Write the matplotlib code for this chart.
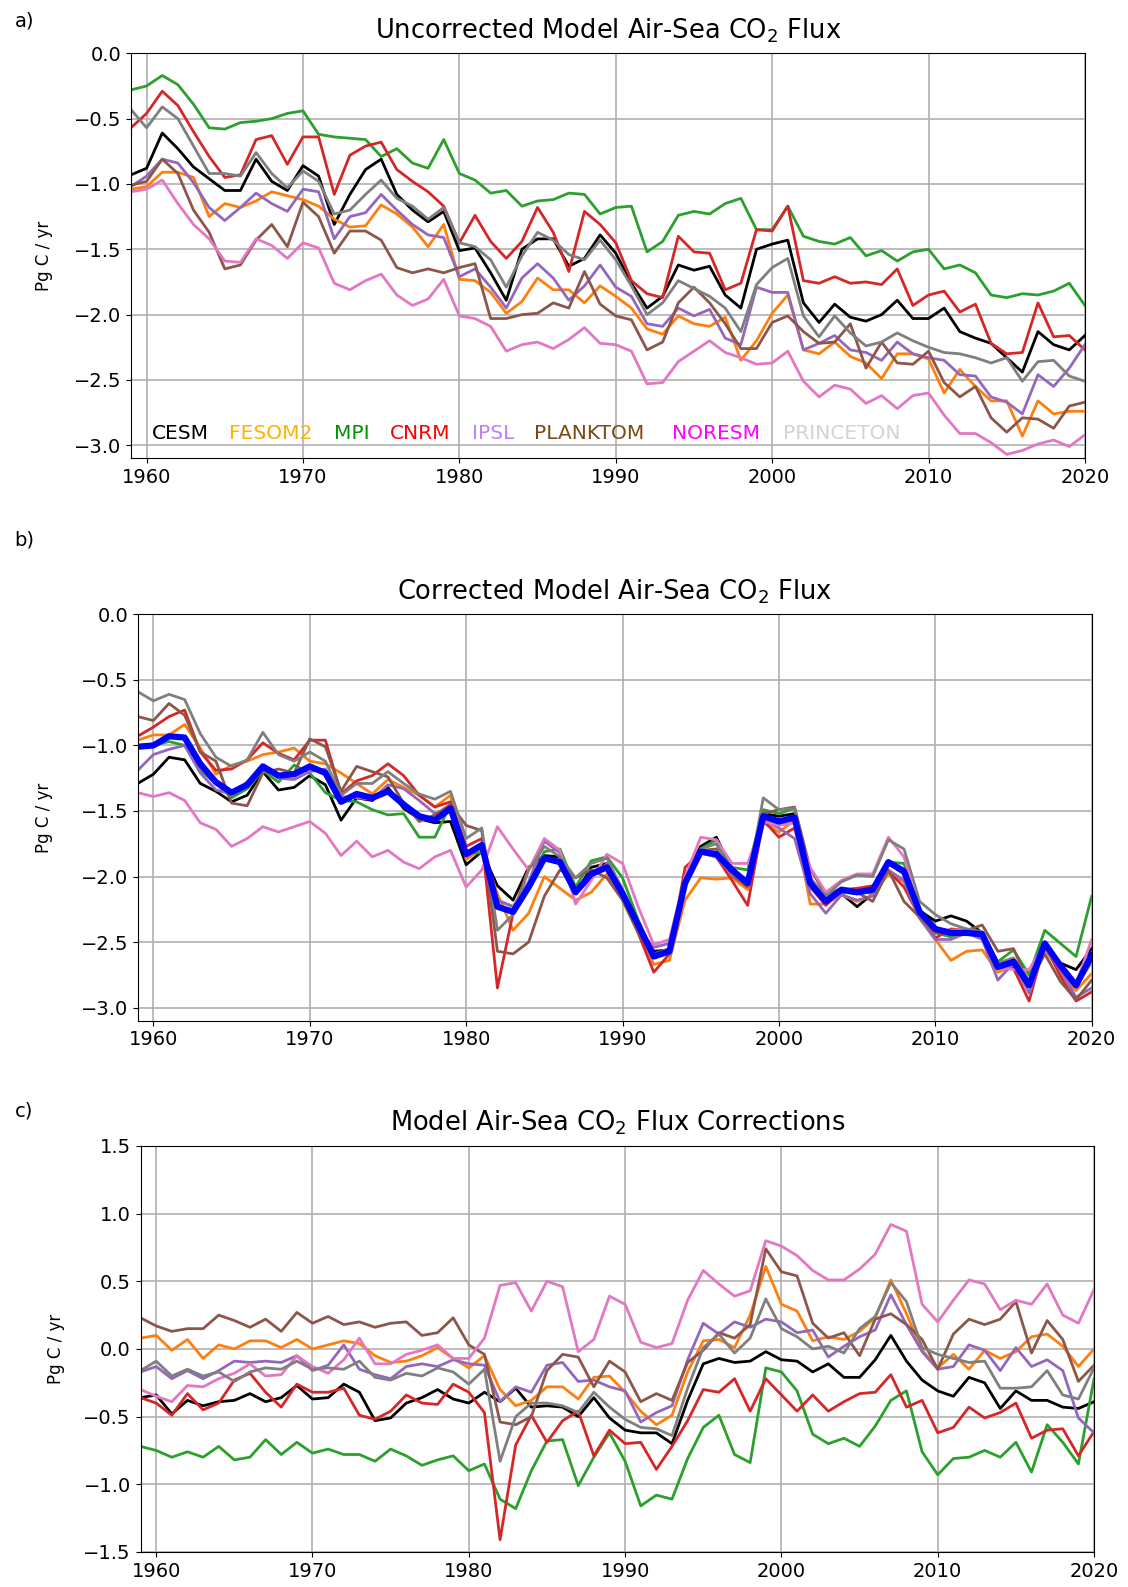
import numpy as np
import matplotlib
matplotlib.use('Agg')
import matplotlib.pyplot as plt

years = np.arange(1959, 2021)

models = ['CESM', 'FESOM2', 'MPI', 'CNRM', 'IPSL', 'PLANKTOM', 'NORESM', 'PRINCETON']
line_colors = ['k', 'tab:orange', 'tab:green', 'tab:red', 'tab:purple', 'tab:brown', 'tab:pink', 'tab:gray']
label_colors = ['black', '#ffb300', '#009400', 'red', '#bf80ff', '#7b4a12', 'magenta', 'lightgray']

# uncorrected model flux (Pg C / yr), 1959-2020
cesm_raw = [-0.93, -0.88, -0.61, -0.73, -0.87, -0.96, -1.05, -1.05, -0.81, -0.98, -1.05, -0.86, -0.94, -1.31, -1.08, -0.89, -0.81, -1.08, -1.20, -1.29, -1.21,
            -1.51, -1.49, -1.68, -1.89, -1.50, -1.42, -1.42, -1.63, -1.57, -1.39, -1.53, -1.76, -1.95, -1.86, -1.62, -1.66, -1.63, -1.85, -1.95, -1.50,
            -1.46, -1.43, -1.91, -2.06, -1.92, -2.02, -2.05, -2.00, -1.89, -2.03, -2.03, -1.95, -2.13, -2.18, -2.22, -2.33, -2.44, -2.13, -2.23, -2.27, -2.16]
fesom_raw = [-1.04, -1.02, -0.91, -0.91, -0.95, -1.25, -1.15, -1.18, -1.13, -1.06, -1.09, -1.12, -1.17, -1.27, -1.33, -1.32, -1.16, -1.23, -1.33, -1.48, -1.31,
             -1.73, -1.74, -1.83, -1.99, -1.90, -1.72, -1.81, -1.81, -1.91, -1.78, -1.86, -1.95, -2.11, -2.15, -2.01, -2.07, -2.09, -2.02, -2.35, -2.20,
             -1.99, -1.85, -2.27, -2.30, -2.21, -2.32, -2.37, -2.49, -2.30, -2.30, -2.34, -2.60, -2.42, -2.55, -2.66, -2.66, -2.93, -2.66, -2.76, -2.74, -2.74]
mpi_raw = [-0.28, -0.25, -0.17, -0.24, -0.39, -0.57, -0.58, -0.53, -0.52, -0.50, -0.46, -0.44, -0.62, -0.64, -0.65, -0.66, -0.79, -0.73, -0.84, -0.88, -0.66,
           -0.92, -0.97, -1.07, -1.05, -1.17, -1.13, -1.12, -1.07, -1.08, -1.23, -1.18, -1.17, -1.52, -1.44, -1.24, -1.21, -1.23, -1.15, -1.11, -1.35,
           -1.35, -1.17, -1.40, -1.44, -1.46, -1.41, -1.55, -1.51, -1.59, -1.52, -1.50, -1.65, -1.62, -1.68, -1.85, -1.87, -1.84, -1.85, -1.82, -1.76, -1.93]
cnrm_raw = [-0.57, -0.46, -0.29, -0.40, -0.60, -0.79, -0.95, -0.93, -0.66, -0.63, -0.85, -0.64, -0.64, -1.08, -0.78, -0.71, -0.68, -0.89, -0.98, -1.06, -1.17,
            -1.45, -1.24, -1.44, -1.57, -1.44, -1.18, -1.37, -1.67, -1.21, -1.31, -1.45, -1.74, -1.84, -1.87, -1.40, -1.52, -1.53, -1.81, -1.76, -1.35,
            -1.36, -1.17, -1.74, -1.76, -1.71, -1.76, -1.75, -1.77, -1.65, -1.93, -1.85, -1.82, -1.98, -1.92, -2.22, -2.30, -2.29, -1.91, -2.17, -2.16, -2.27]
ipsl_raw = [-1.02, -0.94, -0.81, -0.84, -0.99, -1.18, -1.28, -1.18, -1.07, -1.15, -1.21, -1.04, -1.06, -1.42, -1.25, -1.22, -1.08, -1.20, -1.31, -1.39, -1.41,
            -1.71, -1.65, -1.79, -1.95, -1.72, -1.61, -1.72, -1.89, -1.78, -1.62, -1.79, -1.86, -2.07, -2.09, -1.95, -2.01, -1.96, -2.18, -2.23, -1.79,
            -1.83, -1.83, -2.27, -2.22, -2.16, -2.27, -2.29, -2.35, -2.21, -2.30, -2.33, -2.35, -2.46, -2.47, -2.63, -2.67, -2.76, -2.46, -2.55, -2.41, -2.23]
planktom_raw = [-1.01, -0.98, -0.81, -0.92, -1.20, -1.37, -1.65, -1.62, -1.43, -1.31, -1.48, -1.14, -1.25, -1.53, -1.36, -1.36, -1.43, -1.64, -1.68, -1.65, -1.68,
                -1.64, -1.61, -2.03, -2.03, -2.00, -1.99, -1.91, -1.95, -1.67, -1.92, -2.01, -2.04, -2.27, -2.21, -1.91, -1.79, -1.91, -2.07, -2.26, -2.26,
                -2.06, -2.01, -2.13, -2.22, -2.21, -2.07, -2.41, -2.21, -2.37, -2.38, -2.28, -2.52, -2.63, -2.55, -2.79, -2.90, -2.79, -2.80, -2.87, -2.70, -2.67]
noresm_raw = [-1.06, -1.04, -0.97, -1.15, -1.31, -1.42, -1.59, -1.60, -1.42, -1.47, -1.57, -1.45, -1.49, -1.76, -1.81, -1.74, -1.69, -1.85, -1.93, -1.88, -1.73,
              -2.01, -2.03, -2.09, -2.28, -2.23, -2.21, -2.26, -2.19, -2.10, -2.22, -2.23, -2.28, -2.53, -2.52, -2.36, -2.28, -2.20, -2.29, -2.33, -2.38,
              -2.37, -2.28, -2.51, -2.63, -2.54, -2.57, -2.68, -2.62, -2.72, -2.62, -2.60, -2.77, -2.91, -2.91, -2.98, -3.07, -3.04, -2.99, -2.96, -3.01, -2.92]
princeton_raw = [-0.43, -0.57, -0.41, -0.50, -0.71, -0.92, -0.92, -0.94, -0.76, -0.92, -1.03, -0.90, -0.98, -1.23, -1.20, -1.08, -0.97, -1.11, -1.17, -1.27, -1.18,
                 -1.45, -1.48, -1.58, -1.79, -1.55, -1.37, -1.43, -1.54, -1.58, -1.43, -1.58, -1.78, -2.00, -1.91, -1.74, -1.80, -1.86, -1.95, -2.13, -1.77,
                 -1.64, -1.57, -2.01, -2.17, -2.01, -2.14, -2.24, -2.21, -2.14, -2.20, -2.25, -2.29, -2.30, -2.33, -2.37, -2.33, -2.51, -2.36, -2.35, -2.47, -2.51]

# corrected model flux (Pg C / yr), 1959-2020
cesm_cor = [-1.29, -1.22, -1.09, -1.11, -1.29, -1.35, -1.43, -1.38, -1.20, -1.34, -1.32, -1.23, -1.30, -1.57, -1.40, -1.42, -1.32, -1.48, -1.56, -1.59, -1.58,
            -1.91, -1.81, -2.07, -2.18, -1.93, -1.84, -1.85, -2.13, -1.93, -1.90, -2.13, -2.38, -2.57, -2.56, -2.00, -1.77, -1.70, -1.95, -2.04, -1.52,
            -1.54, -1.52, -2.08, -2.17, -2.13, -2.23, -2.13, -1.90, -1.98, -2.26, -2.34, -2.30, -2.34, -2.43, -2.66, -2.64, -2.82, -2.51, -2.66, -2.71, -2.55]
fesom_cor = [-0.96, -0.92, -0.92, -0.84, -1.02, -1.22, -1.15, -1.12, -1.07, -1.05, -1.02, -1.12, -1.14, -1.21, -1.29, -1.37, -1.26, -1.32, -1.38, -1.47, -1.38,
             -1.87, -1.79, -2.13, -2.41, -2.28, -2.00, -2.09, -2.18, -2.12, -1.98, -2.18, -2.41, -2.67, -2.64, -2.18, -2.01, -2.02, -2.01, -2.10, -1.59,
             -1.66, -1.57, -2.21, -2.21, -2.14, -2.19, -2.14, -1.98, -2.04, -2.31, -2.48, -2.64, -2.57, -2.56, -2.73, -2.68, -2.84, -2.55, -2.74, -2.87, -2.74]
mpi_cor = [-1.00, -1.00, -0.97, -1.00, -1.19, -1.29, -1.40, -1.33, -1.19, -1.28, -1.15, -1.21, -1.36, -1.42, -1.43, -1.49, -1.53, -1.52, -1.70, -1.70, -1.45,
           -1.82, -1.82, -2.18, -2.23, -2.07, -1.81, -1.79, -2.08, -1.88, -1.85, -2.01, -2.33, -2.60, -2.55, -2.05, -1.79, -1.72, -1.93, -1.95, -1.49,
           -1.52, -1.48, -2.03, -2.14, -2.12, -2.13, -2.12, -1.89, -1.90, -2.28, -2.43, -2.46, -2.42, -2.43, -2.65, -2.56, -2.75, -2.41, -2.51, -2.61, -2.15]
cnrm_cor = [-0.93, -0.86, -0.78, -0.73, -1.05, -1.19, -1.18, -1.11, -0.98, -1.06, -1.11, -0.96, -0.96, -1.37, -1.27, -1.23, -1.14, -1.23, -1.38, -1.47, -1.43,
            -1.77, -1.71, -2.85, -2.28, -1.93, -1.87, -1.90, -2.13, -2.00, -1.91, -2.15, -2.43, -2.73, -2.59, -1.93, -1.82, -1.85, -2.03, -2.22, -1.57,
            -1.70, -1.63, -2.08, -2.22, -2.10, -2.09, -2.07, -1.96, -2.08, -2.31, -2.47, -2.40, -2.41, -2.43, -2.69, -2.70, -2.95, -2.51, -2.76, -2.95, -2.88]
ipsl_cor = [-1.19, -1.07, -1.03, -1.00, -1.21, -1.34, -1.37, -1.28, -1.16, -1.25, -1.26, -1.20, -1.18, -1.39, -1.40, -1.41, -1.30, -1.33, -1.42, -1.52, -1.49,
            -1.82, -1.77, -2.18, -2.23, -2.04, -1.73, -1.82, -2.13, -2.01, -1.90, -2.10, -2.40, -2.54, -2.51, -2.03, -1.82, -1.85, -1.98, -2.07, -1.57,
            -1.63, -1.71, -2.13, -2.28, -2.14, -2.18, -2.15, -1.95, -2.03, -2.32, -2.48, -2.48, -2.43, -2.48, -2.79, -2.66, -2.89, -2.54, -2.71, -2.92, -2.85]
planktom_cor = [-0.78, -0.81, -0.68, -0.77, -1.05, -1.12, -1.44, -1.46, -1.21, -1.18, -1.21, -0.95, -1.01, -1.35, -1.16, -1.20, -1.24, -1.44, -1.58, -1.53, -1.45,
                -1.61, -1.65, -2.57, -2.59, -2.50, -2.15, -1.95, -2.01, -1.95, -2.01, -2.18, -2.43, -2.60, -2.59, -2.01, -1.80, -1.79, -1.99, -2.08, -1.52,
                -1.49, -1.47, -1.94, -2.14, -2.09, -2.12, -2.19, -1.95, -2.19, -2.31, -2.43, -2.41, -2.41, -2.37, -2.57, -2.55, -2.82, -2.59, -2.80, -2.94, -2.79]
noresm_cor = [-1.36, -1.39, -1.36, -1.42, -1.59, -1.64, -1.77, -1.71, -1.62, -1.66, -1.62, -1.58, -1.67, -1.84, -1.73, -1.85, -1.80, -1.89, -1.94, -1.85, -1.80,
              -2.08, -1.95, -1.62, -1.79, -1.95, -1.71, -1.80, -2.21, -2.03, -1.83, -1.90, -2.23, -2.52, -2.48, -2.00, -1.70, -1.72, -1.90, -1.90, -1.58,
              -1.61, -1.59, -1.93, -2.12, -2.03, -1.98, -1.98, -1.70, -1.85, -2.29, -2.40, -2.41, -2.40, -2.43, -2.69, -2.71, -2.71, -2.51, -2.71, -2.82, -2.48]
princeton_cor = [-0.59, -0.66, -0.61, -0.65, -0.91, -1.09, -1.16, -1.11, -0.90, -1.07, -1.12, -1.05, -1.12, -1.38, -1.29, -1.29, -1.20, -1.29, -1.37, -1.41, -1.35,
                 -1.71, -1.63, -2.41, -2.29, -1.95, -1.77, -1.85, -2.01, -1.90, -1.86, -2.10, -2.36, -2.59, -2.55, -2.03, -1.79, -1.75, -1.98, -2.05, -1.40,
                 -1.49, -1.48, -2.01, -2.15, -2.04, -1.99, -2.00, -1.72, -1.79, -2.19, -2.29, -2.36, -2.40, -2.42, -2.66, -2.62, -2.79, -2.52, -2.69, -2.84, -2.65]

# observation-based flux (thick blue line), 1959-2020
obs_flux = [-1.01, -1.00, -0.93, -0.94, -1.14, -1.28, -1.36, -1.30, -1.16, -1.23, -1.22, -1.16, -1.21, -1.43, -1.37, -1.40, -1.35, -1.45, -1.54, -1.57, -1.48,
            -1.83, -1.76, -2.23, -2.27, -2.08, -1.86, -1.89, -2.12, -1.98, -1.93, -2.13, -2.37, -2.61, -2.57, -2.05, -1.81, -1.83, -1.95, -2.05, -1.54,
            -1.58, -1.55, -2.05, -2.19, -2.10, -2.12, -2.10, -1.89, -1.96, -2.27, -2.40, -2.43, -2.43, -2.44, -2.69, -2.65, -2.83, -2.51, -2.68, -2.83, -2.60]

raw = np.array([cesm_raw, fesom_raw, mpi_raw, cnrm_raw, ipsl_raw, planktom_raw, noresm_raw, princeton_raw])
cor = np.array([cesm_cor, fesom_cor, mpi_cor, cnrm_cor, ipsl_cor, planktom_cor, noresm_cor, princeton_cor])
corrections = cor - raw

fig = plt.figure(figsize=(11.28, 15.87), dpi=100)
ax_a = fig.add_axes([0.1161, 0.7112, 0.8457, 0.2552])
ax_b = fig.add_axes([0.1221, 0.3568, 0.8457, 0.2561])
ax_c = fig.add_axes([0.1246, 0.0221, 0.8453, 0.2558])

titles = ['Uncorrected Model Air-Sea CO$_2$ Flux',
          'Corrected Model Air-Sea CO$_2$ Flux',
          'Model Air-Sea CO$_2$ Flux Corrections']

for ax, data in zip([ax_a, ax_b, ax_c], [raw, cor, corrections]):
    for i in range(len(models)):
        ax.plot(years, data[i], color=line_colors[i], lw=2.0)

ax_b.plot(years, obs_flux, color='blue', lw=4.5)

for ax, title in zip([ax_a, ax_b, ax_c], titles):
    ax.set_xlim(1959, 2020)
    ax.set_xticks([1960, 1970, 1980, 1990, 2000, 2010, 2020])
    ax.grid(True, color='#b0b0b0', lw=1.2)
    ax.tick_params(labelsize=14)
    ax.set_title(title, fontsize=18.5, pad=11)
    ax.set_ylabel('Pg C / yr', fontsize=12)

ax_a.set_ylim(-3.1, 0.0)
ax_b.set_ylim(-3.1, 0.0)
ax_c.set_ylim(-1.5, 1.5)
ax_a.set_yticks(np.arange(-3.0, 0.01, 0.5))
ax_b.set_yticks(np.arange(-3.0, 0.01, 0.5))
ax_c.set_yticks(np.arange(-1.5, 1.51, 0.5))

ax_a.yaxis.set_label_coords(-0.0815, 0.5)
ax_b.yaxis.set_label_coords(-0.0885, 0.5)
ax_c.yaxis.set_label_coords(-0.0795, 0.5)

# model names written in panel a
name_x = [0.0217, 0.1030, 0.2130, 0.2714, 0.3573, 0.4221, 0.5675, 0.6831]
for name, x, c in zip(models, name_x, label_colors):
    ax_a.text(x, 0.047, name, color=c, transform=ax_a.transAxes, fontsize=14.5, va='baseline')

fig.text(0.013, 1 - 21 / 1587, 'a)', fontsize=14, va='center')
fig.text(0.013, 1 - 540 / 1587, 'b)', fontsize=14, va='center')
fig.text(0.013, 1 - 1111 / 1587, 'c)', fontsize=14, va='center')

fig.savefig('out.png', dpi=100)
